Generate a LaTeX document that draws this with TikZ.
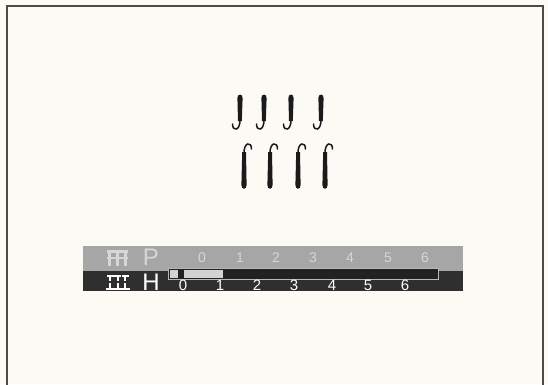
\documentclass[tikz,border=0pt]{standalone}
\usepackage{fontspec}
\setmainfont{Liberation Sans}
\definecolor{paper}{HTML}{FBFAF5}
\definecolor{framec}{HTML}{4A4A4A}
\definecolor{ink}{HTML}{1A1A1A}
\definecolor{lightstrip}{HTML}{A6A6A6}
\definecolor{darkstrip}{HTML}{2F2F2F}
\definecolor{barin}{HTML}{222222}
\definecolor{barline}{HTML}{B8B8B8}
\definecolor{seg}{HTML}{D2D2D2}
\definecolor{toptext}{HTML}{D6D6D6}
\tikzset{
  frameline/.style={draw=framec, line width=1.4pt},
  curl/.style={draw=ink, line width=1.5pt, line cap=round},
  topdig/.style={inner sep=0pt, text=toptext, font=\fontsize{14}{15}\selectfont},
  botdig/.style={inner sep=0pt, text=white, font=\fontsize{15}{16}\selectfont},
  bigletter/.style={inner sep=0pt, font=\fontsize{24}{25}\selectfont}
}
\begin{document}
\begin{tikzpicture}[x=1pt,y=-1pt]
\useasboundingbox (0,0) rectangle (548,384);
\fill[paper] (0,0) rectangle (548,384);
\draw[frameline] (7,385) -- (7,6) -- (543,6) -- (543,385);

% upper hooks (stick above, curl at bottom to the left)
\foreach \sx in {240,264,291,321}{
  \fill[ink] ({\sx-2},121) -- ({\sx-2.6},98) .. controls ({\sx-2.6},93.5) and ({\sx+2.6},93.5) .. ({\sx+2.6},98) -- ({\sx+1.8},121) -- cycle;
  \draw[curl] (\sx,119) .. controls ({\sx+0.5},131) and ({\sx-7.5},132) .. ({\sx-7.5},124);
}
% lower hooks (curl at top to the right, stick below)
\foreach \sx in {244,270,298,325}{
  \fill[ink] ({\sx-1.8},152) -- ({\sx-2.6},185) .. controls ({\sx-2.6},190) and ({\sx+2.6},190) .. ({\sx+2.6},185) -- ({\sx+2},152) -- cycle;
  \draw[curl] (\sx,154) .. controls ({\sx-0.5},142) and ({\sx+7.5},141) .. ({\sx+7.5},149);
}

% indicator strip
\fill[lightstrip] (83,246) rectangle (463,271);
\fill[darkstrip] (83,271) rectangle (463,291);

% upper icon
\begin{scope}[fill=toptext]
  \fill (107,250) rectangle (128,252.5);
  \fill (107,256.5) rectangle (128,258.5);
  \fill (108,250) rectangle (111,266);
  \fill (116,250) rectangle (119,266);
  \fill (124,250) rectangle (127,266);
\end{scope}
% lower icon
\begin{scope}[fill=white]
  \foreach \ix in {110,117.5,125}{
    \fill ({\ix-3.5},274.5) rectangle ({\ix+3.5},276.5);
    \fill ({\ix-1},274.5) rectangle ({\ix+1},281);
    \fill ({\ix-1},283) rectangle ({\ix+1},288);
  }
  \fill (105.5,287.5) rectangle (129.5,289.5);
\end{scope}

\node[bigletter, text=toptext] (P) at (151,257) {P};
\node[bigletter, text=white] (H) at (151,282) {H};

% progress bar
\filldraw[fill=barin, draw=barline, line width=0.8pt] (168,268) rectangle (438,279);
\fill[seg] (169.5,269.5) rectangle (178,277.5);
\fill[seg] (184,269.5) rectangle (223,277.5);

% digits
\foreach \d/\px in {0/202,1/240,2/276,3/313,4/350,5/388,6/425}{
  \node[topdig] (p\d) at (\px,257.5) {\d};
}
\foreach \d/\px in {0/183,1/220,2/257,3/294,4/332,5/368,6/405}{
  \node[botdig] (h\d) at (\px,285.5) {\d};
}
\end{tikzpicture}
\end{document}
